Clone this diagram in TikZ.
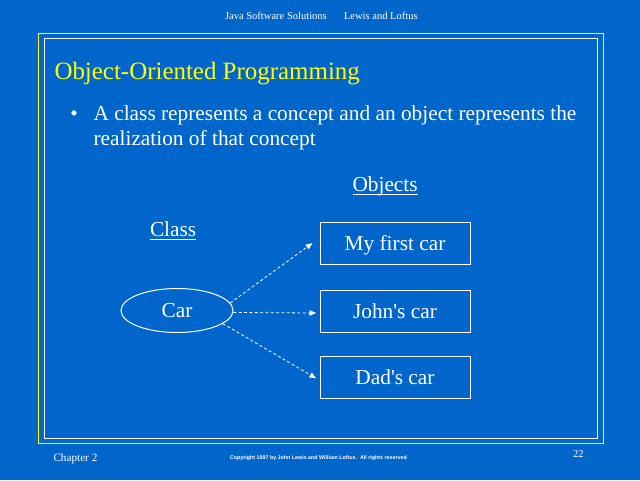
\documentclass[tikz,border=0pt]{standalone}
\usepackage{fontspec}
\setmainfont{Liberation Serif}
\newfontfamily\copyfont{Liberation Sans}
\usetikzlibrary{shapes.geometric,arrows.meta}
\definecolor{slidebg}{RGB}{0,102,204}
\definecolor{slideyellow}{RGB}{255,255,0}
\tikzset{
  txt/.style={anchor=base west, inner sep=0pt, outer sep=0pt, text=white},
  bodyfont/.style={font=\fontsize{16}{19}\selectfont},
  objbox/.style={draw=white, line width=0.75pt, minimum width=112.5pt, minimum height=31.5pt, inner sep=0pt, text=white, bodyfont, text height=10.5pt, text depth=0pt},
  classell/.style={ellipse, draw=white, line width=0.75pt, minimum width=84pt, minimum height=33pt, inner sep=0pt, text=white, bodyfont, text height=10pt, text depth=0pt},
  arr/.style={draw=white, line width=0.6pt, dash pattern=on 2.2pt off 1.8pt, -{Triangle[length=5pt,width=4pt]}},
  uline/.style={draw=white, line width=0.75pt}
}
\begin{document}
\begin{tikzpicture}[x=0.75pt,y=-0.75pt]
\fill[slidebg] (0,0) rectangle (640,480);
\useasboundingbox (0,0) rectangle (640,480);
% frames
\draw[slideyellow, line width=0.9pt] (38.4,33.3) rectangle (603.7,443.3);
\draw[white, line width=0.8pt] (44.5,38.3) rectangle (597.6,438.3);
% header
\node[txt, font=\fontsize{7.9}{9}\selectfont] (hdrA) at (225,19.3) {Java Software Solutions};
\node[txt, font=\fontsize{7.9}{9}\selectfont] (hdrB) at (344,19.3) {Lewis and Loftus};
% title
\node[txt, text=slideyellow, font=\fontsize{18.7}{22}\selectfont] (title) at (54.5,79) {Object-Oriented Programming};
% bullet
\node[txt, bodyfont] (bul) at (70.4,120) {•};
\node[txt, bodyfont] (l1) at (93.6,120) {A class represents a concept and an object represents the};
\node[txt, bodyfont] (l2) at (93.6,145) {realization of that concept};
% headings
\node[txt, bodyfont] (objh) at (352.5,191.7) {Objects};
\draw[uline] ([yshift=-2.4pt]objh.base west) -- ([yshift=-2.4pt]objh.base east);
\node[txt, bodyfont] (clsh) at (150,236.7) {Class};
\draw[uline] ([yshift=-1.8pt]clsh.base west) -- ([yshift=-1.8pt]clsh.base east);
% shapes
\node[classell] (car) at (177,310.5) {Car};
\node[objbox] (b1) at (395,243.5) {My first car};
\node[objbox] (b2) at (395,311) {John\textquotesingle s car};
\node[objbox] (b3) at (395,377) {Dad\textquotesingle s car};
% arrows
\draw[arr] (car.8) -- ([xshift=-5.3pt,yshift=0.3pt]b1.west);
\draw[arr] ([yshift=-1.5pt]car.east) -- ([xshift=-2.5pt,yshift=-1.5pt]b2.west);
\draw[arr] (car.-16) -- ([xshift=-2.5pt,yshift=-1pt]b3.west);
% footer
\node[txt, font=\fontsize{8.4}{10}\selectfont] (chap) at (53.5,461) {Chapter 2};
\node[txt, font=\copyfont\bfseries\fontsize{4}{5}\selectfont] (copy) at (230,459) {Copyright 1997 by John Lewis and William Loftus.\ \ All rights reserved};
\node[txt, font=\fontsize{8}{10}\selectfont] (pg) at (573,457.7) {22};
\end{tikzpicture}
\end{document}
